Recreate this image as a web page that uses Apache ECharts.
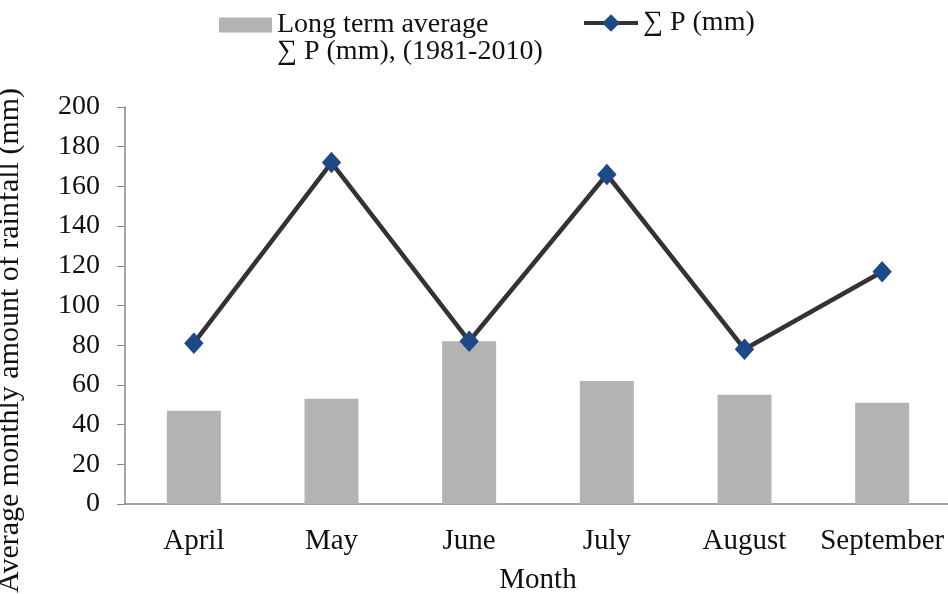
<!DOCTYPE html>
<html>
<head>
<meta charset="utf-8">
<script src="https://cdn.jsdelivr.net/npm/echarts@6/dist/echarts.min.js"></script>
<style>
  html, body { margin: 0; padding: 0; background: #fff; }
  #chart { width: 948px; height: 594px; }
</style>
</head>
<body>
<div id="chart"></div>
<script>
const months = ['April', 'May', 'June', 'July', 'August', 'September'];
const longTermAvg = [47, 53, 82, 62, 55, 51];
const rainfall = [81, 172, 82, 166, 78, 117];
const yTicks = { min: 0, max: 200, interval: 20 };

const serif = 'Liberation Serif';
const avgName = 'Long term average\n∑ P (mm), (1981-2010)';
const chart = echarts.init(document.getElementById('chart'));

chart.setOption({
  animation: false,
  textStyle: { fontFamily: serif },
  legend: [
    {
      data: [{ name: avgName, icon: 'rect' }],
      formatter: (name) => '\n' + name, // keeps the icon on the first text line
      left: 219,
      top: -16,
      padding: 0,
      itemWidth: 53,
      itemHeight: 15,
      textStyle: { fontFamily: serif, fontSize: 28, color: '#111', lineHeight: 27 }
    },
    {
      data: ['∑ P (mm)'],
      left: 582,
      top: 9,
      padding: 0,
      itemWidth: 54,
      itemHeight: 22,
      lineStyle: { width: 4, color: '#333' },
      textStyle: { fontFamily: serif, fontSize: 28, color: '#111' }
    }
  ],
  grid: { left: 125, top: 107, width: 826, height: 397, outerBoundsMode: 'none' },
  xAxis: {
    type: 'category',
    data: months,
    name: 'Month',
    nameLocation: 'middle',
    nameGap: 62,
    nameTextStyle: { fontFamily: serif, fontSize: 29, color: '#111' },
    axisLine: { lineStyle: { color: '#888', width: 1.5 } },
    axisTick: { length: 8, lineStyle: { color: '#888' } },
    axisLabel: { interval: 0, margin: 23, fontFamily: serif, fontSize: 29, color: '#111' }
  },
  yAxis: {
    type: 'value',
    min: yTicks.min,
    max: yTicks.max,
    interval: yTicks.interval,
    name: 'Average monthly amount of rainfall (mm)',
    nameLocation: 'middle',
    nameGap: 100,
    nameTextStyle: { fontFamily: serif, fontSize: 30, color: '#111', padding: [0, 70, 0, 0] },
    axisLine: { show: true, lineStyle: { color: '#888', width: 1.5 } },
    axisTick: { show: true, length: 8, lineStyle: { color: '#888' } },
    splitLine: { show: false },
    axisLabel: { margin: 25, fontFamily: serif, fontSize: 28, color: '#111' }
  },
  series: [
    {
      name: avgName,
      type: 'bar',
      data: longTermAvg,
      barWidth: 54,
      itemStyle: { color: '#b3b3b3' }
    },
    {
      name: '∑ P (mm)',
      type: 'line',
      data: rainfall,
      symbol: 'diamond',
      symbolSize: [18, 20],
      lineStyle: { color: '#333', width: 4.5 },
      itemStyle: { color: '#1c4a86', borderColor: '#1c4a86' }
    }
  ]
});
</script>
</body>
</html>
